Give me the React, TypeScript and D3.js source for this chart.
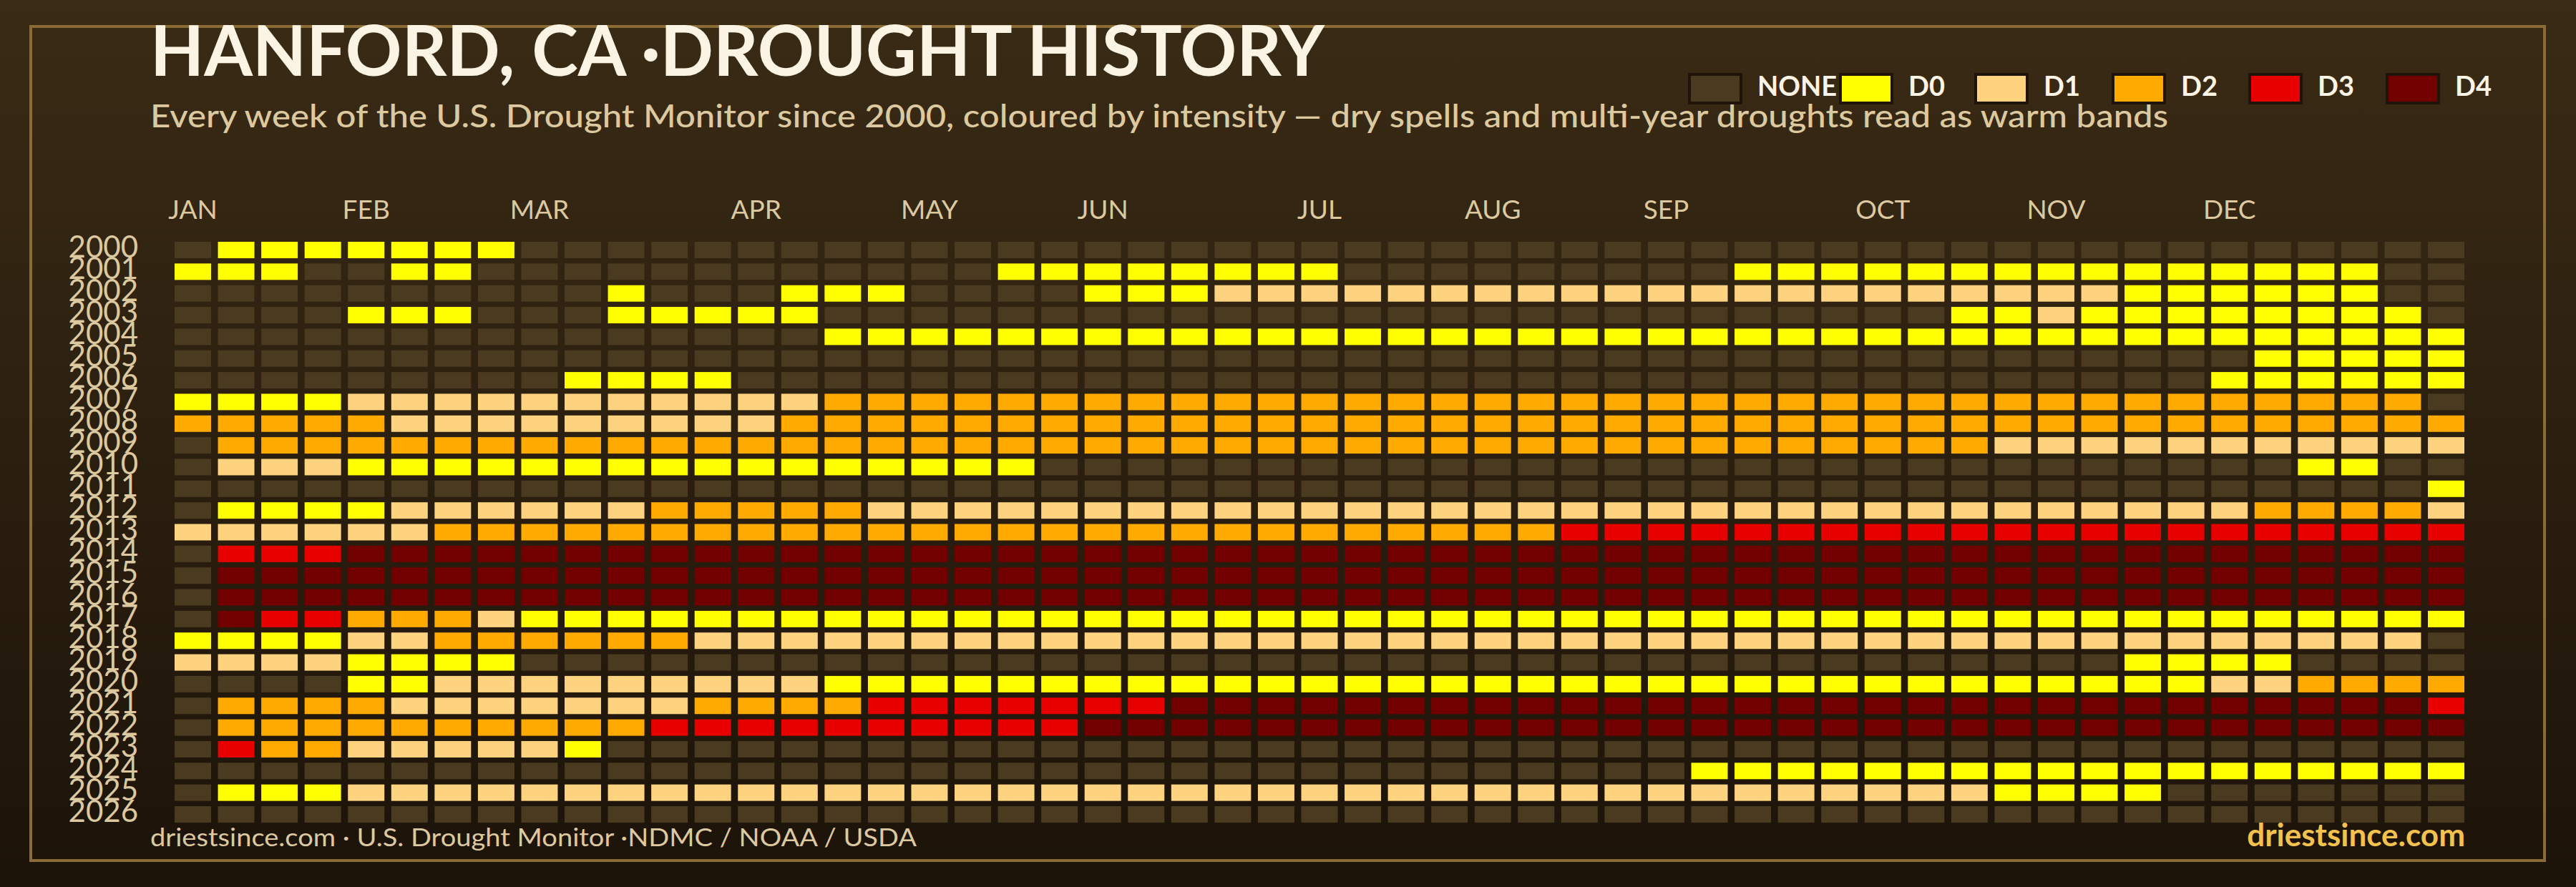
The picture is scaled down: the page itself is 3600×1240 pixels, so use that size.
import React from 'react';
import * as d3 from 'd3';

const W = 3600;
const H = 1240;

const YEARS = [2000, 2001, 2002, 2003, 2004, 2005, 2006, 2007, 2008, 2009, 2010, 2011, 2012, 2013,
  2014, 2015, 2016, 2017, 2018, 2019, 2020, 2021, 2022, 2023, 2024, 2025, 2026];

const WEEK_COUNT = 53;

const MONTHS = ['JAN', 'FEB', 'MAR', 'APR', 'MAY', 'JUN', 'JUL', 'AUG', 'SEP', 'OCT', 'NOV', 'DEC'];
const MONTH_START_WEEK = [0, 4, 8, 13, 17, 21, 26, 30, 34, 39, 43, 47];

const LEVELS = ['NONE', 'D0', 'D1', 'D2', 'D3', 'D4'];
const LEVEL_COLORS = ['#4a3a20', '#ffff00', '#fdd380', '#ffaa00', '#e60000', '#730000'];

// weekly drought level per year, as runs of [level index, number of weeks]
// level index: 0 = NONE, 1 = D0, 2 = D1, 3 = D2, 4 = D3, 5 = D4
const WEEKLY_RUNS: [number, number][][] = [
  [[0, 1], [1, 7], [0, 45]],
  [[1, 3], [0, 2], [1, 2], [0, 12], [1, 8], [0, 9], [1, 15], [0, 2]],
  [[0, 10], [1, 1], [0, 3], [1, 3], [0, 4], [1, 3], [2, 21], [1, 6], [0, 2]],
  [[0, 4], [1, 3], [0, 3], [1, 5], [0, 26], [1, 2], [2, 1], [1, 8], [0, 1]],
  [[0, 15], [1, 38]],
  [[0, 48], [1, 5]],
  [[0, 9], [1, 4], [0, 34], [1, 6]],
  [[1, 4], [2, 11], [3, 37], [0, 1]],
  [[3, 5], [2, 9], [3, 39]],
  [[0, 1], [3, 41], [2, 11]],
  [[0, 1], [2, 3], [1, 16], [0, 29], [1, 2], [0, 2]],
  [[0, 52], [1, 1]],
  [[0, 1], [1, 4], [2, 6], [3, 5], [2, 32], [3, 4], [2, 1]],
  [[2, 6], [3, 26], [4, 21]],
  [[0, 1], [4, 3], [5, 49]],
  [[0, 1], [5, 52]],
  [[0, 1], [5, 52]],
  [[0, 1], [5, 1], [4, 2], [3, 3], [2, 1], [1, 45]],
  [[1, 4], [2, 2], [3, 6], [2, 40], [0, 1]],
  [[2, 4], [1, 4], [0, 37], [1, 4], [0, 4]],
  [[0, 4], [1, 2], [2, 9], [1, 32], [2, 2], [3, 4]],
  [[0, 1], [3, 4], [2, 7], [3, 4], [4, 7], [5, 29], [4, 1]],
  [[0, 1], [3, 10], [4, 10], [5, 32]],
  [[0, 1], [4, 1], [3, 2], [2, 5], [1, 1], [0, 43]],
  [[0, 35], [1, 18]],
  [[0, 1], [1, 3], [2, 38], [1, 4], [0, 7]],
  [[0, 53]],
];

const TITLE = 'HANFORD, CA ·DROUGHT HISTORY';
const SUBTITLE = 'Every week of the U.S. Drought Monitor since 2000, coloured by intensity — dry spells and multi-year droughts read as warm bands';
const SOURCE = 'driestsince.com  · U.S. Drought Monitor ·NDMC / NOAA / USDA';
const BRAND = 'driestsince.com';

const FONT = "Lato, 'Open Sans', 'DejaVu Sans', sans-serif";

type Cell = { year: number; week: number; level: number };

function expand(): Cell[] {
  const cells: Cell[] = [];
  WEEKLY_RUNS.forEach((runs, yi) => {
    let w = 0;
    runs.forEach(([level, n]) => {
      for (let k = 0; k < n; k++) {
        cells.push({ year: YEARS[yi], week: w, level });
        w++;
      }
    });
  });
  return cells;
}

export default function App() {
  const weeks = d3.range(WEEK_COUNT);
  const x = d3.scaleBand<number>().domain(weeks).range([244, 3444]).paddingInner(0.158).paddingOuter(0);
  const y = d3.scaleBand<number>().domain(YEARS).range([338, 1150]).paddingInner(0.242).paddingOuter(0);
  const color = d3.scaleOrdinal<number, string>().domain(d3.range(LEVELS.length)).range(LEVEL_COLORS);
  const cells = expand();

  const legendX = [2361, 2572, 2761, 2953, 3144, 3336];

  return (
    <svg width={W} height={H} viewBox={`0 0 ${W} ${H}`}
      style={{ position: 'absolute', left: 0, top: 0, display: 'block' }}>
      <defs>
        <linearGradient id="bg" x1="0" y1="0" x2="0" y2="1">
          <stop offset="0" stopColor="#3a2b15" />
          <stop offset="1" stopColor="#1c1309" />
        </linearGradient>
      </defs>
      <rect x={0} y={0} width={W} height={H} fill="url(#bg)" />
      <rect x={43} y={37} width={3513} height={1166} fill="none" stroke="#8b6c35" strokeWidth={4} />

      <text x={210} y={106} fontFamily={FONT} fontWeight={700} fontSize={98} fill="#fbf3e4"
        textLength={1641} lengthAdjust="spacingAndGlyphs">{TITLE}</text>
      <text x={210} y={178} fontFamily={FONT} fontWeight={500} fontSize={45} fill="#dcc9a0"
        textLength={2820} lengthAdjust="spacingAndGlyphs">{SUBTITLE}</text>

      {LEVELS.map((lv, i) => (
        <g key={lv}>
          <rect x={legendX[i]} y={104} width={72} height={40} fill={LEVEL_COLORS[i]}
            stroke="#1e1409" strokeWidth={4} />
          <text x={legendX[i] + 95} y={134} fontFamily={FONT} fontWeight={700} fontSize={38}
            fill="#fbf3e4">{lv}</text>
        </g>
      ))}

      {MONTHS.map((m, i) => (
        <text key={m} x={(x(MONTH_START_WEEK[i]) ?? 0) + x.bandwidth() / 2} y={306}
          textAnchor="middle" fontFamily={FONT} fontSize={37} fill="#dcc9a0">{m}</text>
      ))}

      {YEARS.map((yr) => (
        <text key={yr} x={193} y={(y(yr) ?? 0) + y.bandwidth() - 1} textAnchor="end"
          fontFamily={FONT} fontSize={42} fill="#dcc9a0">{yr}</text>
      ))}

      {cells.map((c) => (
        <rect key={`${c.year}-${c.week}`} x={x(c.week)} y={y(c.year)} width={x.bandwidth()}
          height={y.bandwidth()} fill={color(c.level)} />
      ))}

      <text x={210} y={1183} fontFamily={FONT} fontSize={34} fill="#dcc9a0"
        textLength={1071} lengthAdjust="spacingAndGlyphs">{SOURCE}</text>
      <text x={3445} y={1183} textAnchor="end" fontFamily={FONT} fontWeight={700} fontSize={44}
        fill="#f2c14e">{BRAND}</text>
    </svg>
  );
}
